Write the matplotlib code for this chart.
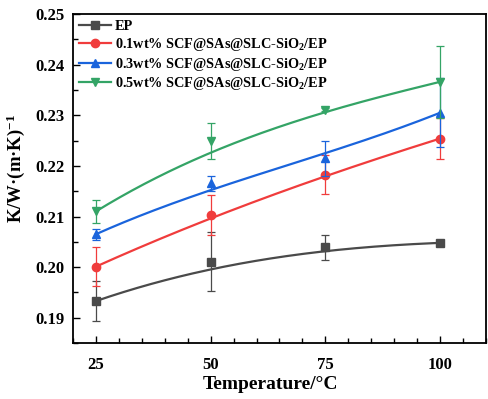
import matplotlib
matplotlib.use("Agg")
import matplotlib.pyplot as plt
import numpy as np
from matplotlib.ticker import MultipleLocator

temps = [25, 50, 75, 100]

ep = [0.1933, 0.2011, 0.2039, 0.2048]
ep_err = [0.0040, 0.0059, 0.0025, 0.0002]

s01 = [0.2001, 0.2103, 0.2183, 0.2254]
s01_err = [0.0038, 0.0040, 0.0038, 0.0040]

s03 = [0.2065, 0.2166, 0.2215, 0.2305]
s03_err = [0.0011, 0.0015, 0.0034, 0.0068]

s05 = [0.2110, 0.2249, 0.2311, 0.2366]
s05_err = [0.0023, 0.0036, 0.0003, 0.0071]

labels = ["EP",
          "0.1wt% SCF@SAs@SLC-SiO$_2$/EP",
          "0.3wt% SCF@SAs@SLC-SiO$_2$/EP",
          "0.5wt% SCF@SAs@SLC-SiO$_2$/EP"]
colors = ["#4a4a4a", "#f03c3c", "#1a64dc", "#34a466"]
markers = ["s", "o", "^", "v"]

plt.rcParams["font.family"] = "Liberation Serif"
plt.rcParams["font.weight"] = "bold"
plt.rcParams["mathtext.fontset"] = "custom"
plt.rcParams["mathtext.rm"] = "Liberation Serif:bold"
plt.rcParams["mathtext.it"] = "Liberation Serif:bold"
plt.rcParams["mathtext.bf"] = "Liberation Serif:bold"
plt.rcParams["mathtext.default"] = "rm"


def bspline(xs, ys, n=200):
    # Origin-style B-spline through 4 control points (cubic Bezier)
    t = np.linspace(0, 1, n)[:, None]
    k = np.array([1, 3, 3, 1])
    i = np.arange(4)
    basis = k * (1 - t) ** (3 - i) * t ** i
    return basis @ np.asarray(xs, float), basis @ np.asarray(ys, float)


fig = plt.figure(figsize=(4.89, 3.99), dpi=100)
ax = fig.add_axes([0.149, 0.140, 0.845, 0.825])

for ys, err, c, m, lab in zip([ep, s01, s03, s05],
                              [ep_err, s01_err, s03_err, s05_err],
                              colors, markers, labels):
    cx, cy = bspline(temps, ys)
    ax.plot(cx, cy, color=c, linewidth=1.6)
    ax.errorbar(temps, ys, yerr=err, fmt="none", ecolor=c, elinewidth=0.9,
                capsize=3, capthick=0.9)
    ax.plot(temps, ys, linestyle="none", marker=m, color=c, markersize=6)
    ax.plot([], [], color=c, marker=m, markersize=6, linewidth=1.6, label=lab)

ax.set_xlim(20, 110)
ax.set_ylim(0.185, 0.25)
ax.set_xticks(temps)
ax.xaxis.set_minor_locator(MultipleLocator(5))
ax.yaxis.set_major_locator(MultipleLocator(0.01))
ax.yaxis.set_minor_locator(MultipleLocator(0.005))
ax.yaxis.set_major_formatter(matplotlib.ticker.FormatStrFormatter("%.2f"))

ax.tick_params(which="both", direction="in", top=False, right=False,
               width=1.0, labelsize=12)
ax.tick_params(which="major", length=5)
ax.tick_params(which="minor", length=3.5)
ax.tick_params(axis="x", pad=10)
ax.tick_params(axis="y", pad=6)
for sp in ax.spines.values():
    sp.set_linewidth(1.3)
    sp.set_color("black")

ax.set_xlabel("Temperature/°C", fontsize=14, fontweight="bold")
ax.xaxis.set_label_coords(0.477, -0.10)
ax.set_ylabel("K/W·(m·K)$^{-1}$", fontsize=13.5, fontweight="bold")
ax.yaxis.set_label_coords(-0.112, 0.53)

ax.legend(loc="upper left", frameon=False, handlelength=2.2,
          handletextpad=0.3, labelspacing=0.18, borderaxespad=0.05,
          prop={"weight": "bold", "size": 10.3})

fig.savefig("out.png", dpi=100)
